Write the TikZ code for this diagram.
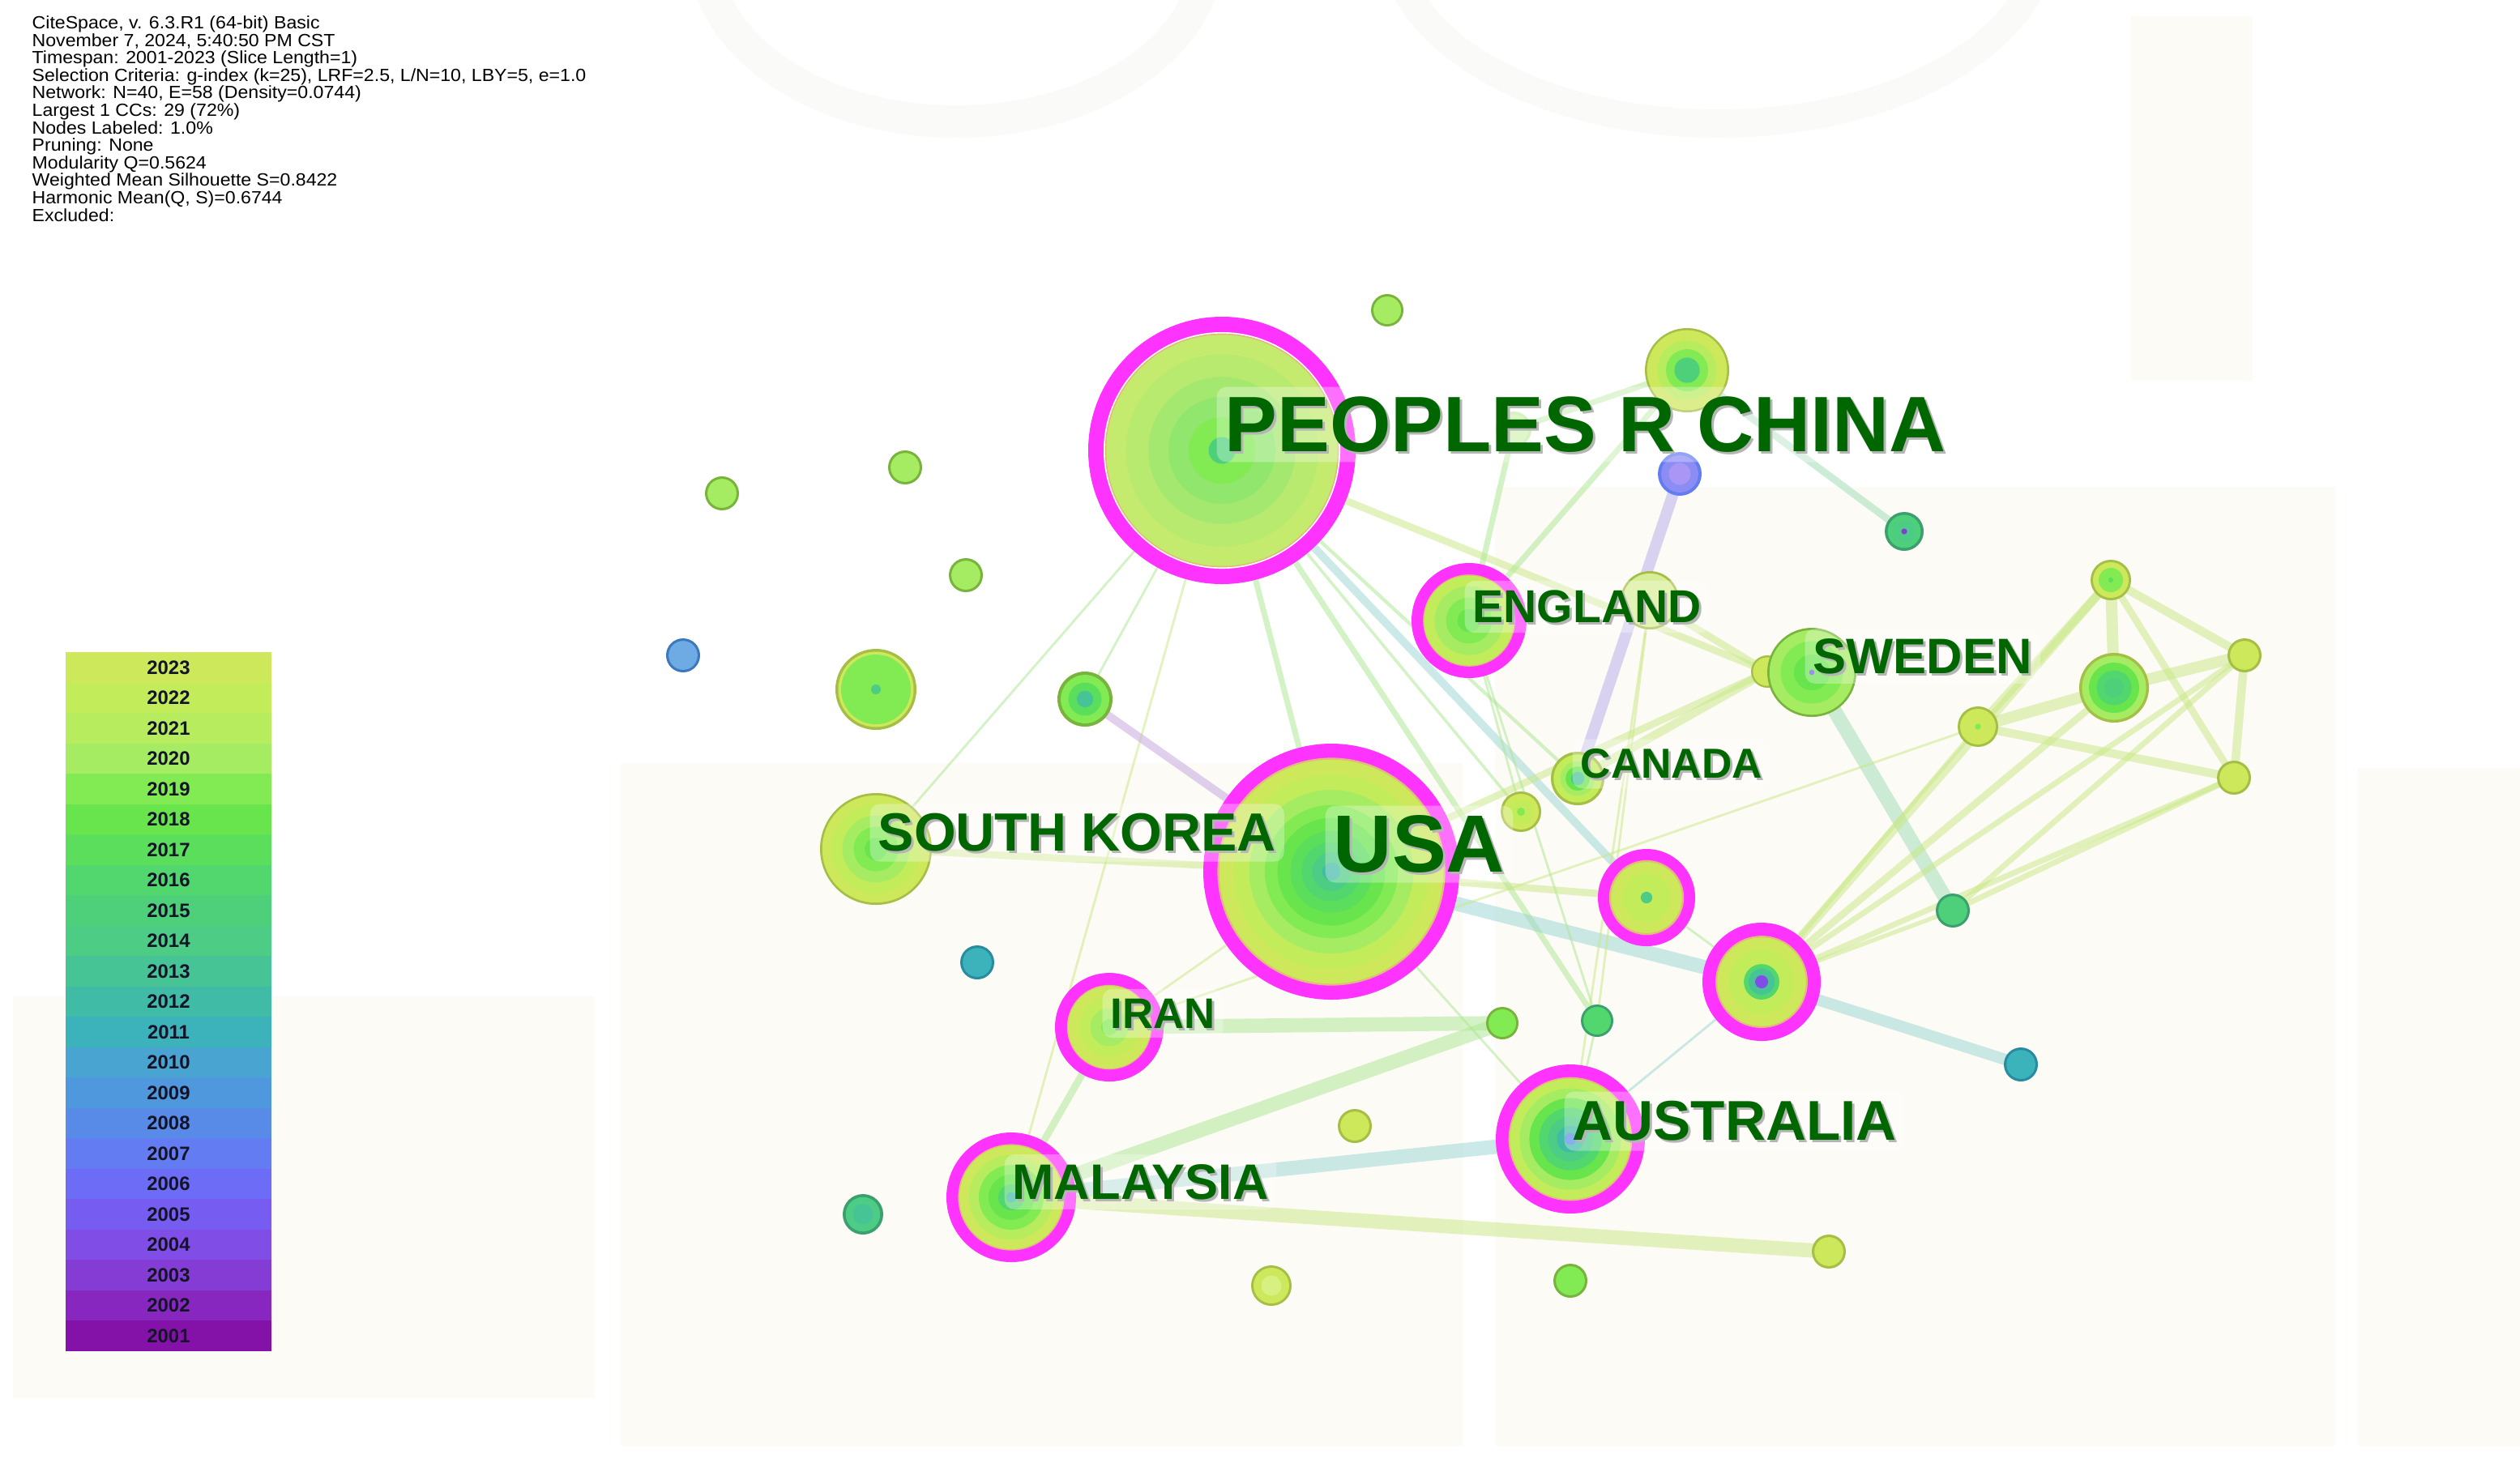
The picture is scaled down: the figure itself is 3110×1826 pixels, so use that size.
\documentclass[tikz,border=0pt]{standalone}
\usepackage{fontspec}
\setmainfont{Liberation Sans}
\usepackage{graphicx}
% year palette
\definecolor{y23}{RGB}{205,232,90}
\definecolor{y22}{RGB}{195,236,90}
\definecolor{y21}{RGB}{182,236,94}
\definecolor{y20}{RGB}{166,236,98}
\definecolor{y19}{RGB}{130,234,82}
\definecolor{y18}{RGB}{104,228,76}
\definecolor{y17}{RGB}{90,222,92}
\definecolor{y16}{RGB}{82,214,110}
\definecolor{y15}{RGB}{78,208,122}
\definecolor{y14}{RGB}{76,204,132}
\definecolor{y13}{RGB}{70,196,150}
\definecolor{y12}{RGB}{64,188,166}
\definecolor{y11}{RGB}{60,178,186}
\definecolor{y10}{RGB}{74,164,210}
\definecolor{y09}{RGB}{80,152,222}
\definecolor{y08}{RGB}{88,138,232}
\definecolor{y07}{RGB}{100,124,242}
\definecolor{y06}{RGB}{108,108,246}
\definecolor{y05}{RGB}{118,92,240}
\definecolor{y04}{RGB}{128,78,230}
\definecolor{y03}{RGB}{132,60,212}
\definecolor{y02}{RGB}{136,38,192}
\definecolor{y01}{RGB}{132,18,168}
\definecolor{mag}{RGB}{255,51,255}
\definecolor{rim}{RGB}{225,185,125}
\definecolor{bordY}{RGB}{165,190,70}
\definecolor{bordG}{RGB}{120,180,60}
\definecolor{bordT}{RGB}{60,160,110}
\definecolor{bordB}{RGB}{60,120,190}
\definecolor{bordC}{RGB}{40,140,160}
\definecolor{blueA}{RGB}{140,140,245}
\definecolor{blueB}{RGB}{170,150,245}
\definecolor{blueI}{RGB}{110,170,228}
\definecolor{paleY}{RGB}{215,238,150}
\definecolor{paleY2}{RGB}{215,240,130}
\definecolor{hidB}{RGB}{200,235,170}
\definecolor{hidF}{RGB}{210,242,180}
\definecolor{cIn1}{RGB}{196,234,110}
\definecolor{cIn2}{RGB}{185,234,112}
\definecolor{cIn3}{RGB}{165,232,112}
\definecolor{cIn4}{RGB}{145,230,110}
\definecolor{labgreen}{RGB}{0,102,0}
\definecolor{shadowc}{RGB}{150,150,150}
\definecolor{beige}{RGB}{253,251,246}
\definecolor{fog}{RGB}{250,250,248}
\definecolor{legtxt}{RGB}{20,20,40}
\definecolor{cEg}{RGB}{175,232,150}
\definecolor{cEt}{RGB}{150,212,210}
\definecolor{cEy}{RGB}{200,232,130}
\definecolor{cEl}{RGB}{180,170,235}
\definecolor{cEp}{RGB}{200,170,225}
\definecolor{cEtg}{RGB}{165,222,185}
\tikzset{
  vnode/.style={circle, inner sep=0pt, minimum size={#1*0.02cm}},
  egreen/.style={draw=cEg, draw opacity=0.55, line width=#1},
  eteal/.style={draw=cEt, draw opacity=0.5, line width=#1},
  eyell/.style={draw=cEy, draw opacity=0.5, line width=#1},
  elav/.style={draw=cEl, draw opacity=0.5, line width=#1},
  epink/.style={draw=cEp, draw opacity=0.55, line width=#1},
  etg/.style={draw=cEtg, draw opacity=0.55, line width=#1},
  labtext/.style={anchor=west, inner xsep=0.1cm, inner ysep=0.12cm, text=labgreen, fill=white, fill opacity=0.3, text opacity=1, rounded corners=0.12cm},
  shadtext/.style={anchor=west, inner xsep=0.1cm, inner ysep=0.12cm, text=shadowc},
  legtext/.style={font=\bfseries\fontsize{6.8}{7}\selectfont, text=legtxt, inner sep=0pt},
}
\newcommand\rings[3]{\foreach \f/\c in {#3}{\fill[fill=\c] (#1) circle ({#2*\f});}}
\newcommand\lbl[5]{%
  \node[shadtext, font=\bfseries\fontsize{#4}{#4}\selectfont] at ({#2-10+3},{#3+3}) {#5};
  \node[labtext, font=\bfseries\fontsize{#4}{#4}\selectfont] (#1) at ({#2-10},#3) {#5};
}
\begin{document}
\begin{tikzpicture}[x=0.01cm,y=-0.01cm]
\useasboundingbox (0,0) rectangle (3110,1826);
% background
\begin{scope}
\clip (0,0) rectangle (3110,1826);
\fill[white] (0,0) rectangle (3110,1826);
\fill[fog] (1180,-60) ellipse (330 and 230);
\fill[white] (1180,-60) ellipse (290 and 190);
\fill[fog] (2120,-80) ellipse (420 and 250);
\fill[white] (2120,-80) ellipse (385 and 215);
\fill[beige] (766,942) rectangle (1805,1785);
\fill[beige] (1845,601) rectangle (2882,1785);
\fill[beige] (16,1230) rectangle (734,1726);
\fill[beige] (2910,948) rectangle (3110,1785);
\fill[beige] (2630,20) rectangle (2780,470);
\end{scope}

% info text
\node[anchor=north west, inner sep=0pt, align=left] (info) at (39,19) {\scalebox{1.06}[1]{\fontsize{6.2}{5.5}\selectfont\begin{tabular}{@{}l@{}}
CiteSpace, v. 6.3.R1 (64-bit) Basic\\
November 7, 2024, 5:40:50 PM CST\\
Timespan: 2001-2023 (Slice Length=1)\\
Selection Criteria: g-index (k=25), LRF=2.5, L/N=10, LBY=5, e=1.0\\
Network: N=40, E=58 (Density=0.0744)\\
Largest 1 CCs: 29 (72\%)\\
Nodes Labeled: 1.0\%\\
Pruning: None\\
Modularity Q=0.5624\\
Weighted Mean Silhouette S=0.8422\\
Harmonic Mean(Q, S)=0.6744\\
Excluded:
\end{tabular}}};

% legend
\foreach \c/\yr [count=\i from 0] in {y23/2023,y22/2022,y21/2021,y20/2020,y19/2019,y18/2018,y17/2017,y16/2016,y15/2015,y14/2014,y13/2013,y12/2012,y11/2011,y10/2010,y09/2009,y08/2008,y07/2007,y06/2006,y05/2005,y04/2004,y03/2003,y02/2002,y01/2001}{
  \fill[fill=\c] (81,{805+37.52*\i}) rectangle (335,{805+37.52*(\i+1)});
  \node[legtext] (leg\i) at (208,{805+37.52*(\i+0.5)}) {\yr};
}

% network nodes (positions)
\node[vnode=165] (china) at (1508,556) {};
\node[vnode=158] (usa) at (1643,1076) {};
\node[vnode=71] (england) at (1813,766) {};
\node[vnode=67] (iran) at (1369,1268) {};
\node[vnode=80] (malaysia) at (1248,1478) {};
\node[vnode=92] (australia) at (1938,1406) {};
\node[vnode=60] (ma) at (2032,1108) {};
\node[vnode=73] (mb) at (2174,1212) {};
\node[vnode=69] (skorea) at (1081,1048) {};
\node[vnode=55] (sweden) at (2236,830) {};
\node[vnode=20] (swb) at (2181,829) {};
\node[vnode=33] (canada) at (1947,961) {};
\node[vnode=52] (nA) at (2082,457) {};
\node[vnode=27] (nB) at (2073,585) {};
\node[vnode=24] (nC) at (2350,656) {};
\node[vnode=36] (nD) at (2036,741) {};
\node[vnode=20] (nE) at (1712,383) {};
\node[vnode=21] (nF) at (891,609) {};
\node[vnode=21] (nG) at (1117,577) {};
\node[vnode=21] (nH) at (1192,710) {};
\node[vnode=21] (nI) at (843,809) {};
\node[vnode=50] (nJ) at (1081,851) {};
\node[vnode=34] (nK) at (1339,863) {};
\node[vnode=25] (nL) at (1877,1002) {};
\node[vnode=25] (nM) at (2605,716) {};
\node[vnode=21] (nN) at (2770,809) {};
\node[vnode=43] (nO) at (2609,849) {};
\node[vnode=25] (nP) at (2441,897) {};
\node[vnode=21] (nQ) at (2757,960) {};
\node[vnode=21] (nR) at (2410,1124) {};
\node[vnode=21] (nS) at (2494,1314) {};
\node[vnode=21] (nT) at (1206,1188) {};
\node[vnode=20] (nU) at (1854,1263) {};
\node[vnode=20] (nV) at (1971,1260) {};
\node[vnode=21] (nW) at (1672,1390) {};
\node[vnode=25] (nX) at (1065,1499) {};
\node[vnode=25] (nY) at (1569,1587) {};
\node[vnode=21] (nZ) at (1938,1581) {};
\node[vnode=21] (nAA) at (2257,1545) {};
\node[vnode=22] (hid) at (1868,530) {};

% edges
\draw[egreen=2pt] (china.center) -- (usa.center);
\draw[egreen=0.8pt] (china.center) -- (skorea.center);
\draw[egreen=0.8pt] (china.center) -- (nK.center);
\draw[eyell=0.8pt] (china.center) -- (malaysia.center);
\draw[egreen=2pt] (china.center) -- (nV.center);
\draw[eteal=2.8pt] (china.center) -- (ma.center);
\draw[egreen=1pt] (china.center) -- (nL.center);
\draw[egreen=1.2pt] (china.center) -- (canada.center);
\draw[eyell=2.5pt] (china.center) -- (swb.center);
\draw[egreen=2pt] (hid.center) -- (england.center);
\draw[egreen=2pt] (hid.center) -- (nA.center);
\draw[egreen=2pt] (nA.center) -- (england.center);
\draw[etg=2.5pt] (nA.center) -- (nC.center);
\draw[elav=4pt] (nB.center) -- (canada.center);
\draw[eyell=2.5pt] (nD.center) -- (swb.center);
\draw[eyell=3pt] (swb.center) -- (canada.center);
\draw[eyell=2.5pt] (swb.center) -- (usa.center);
\draw[etg=5pt] (sweden.center) -- (nR.center);
\draw[eyell=2.5pt] (usa.center) -- (skorea.center);
\draw[epink=2.8pt] (usa.center) -- (nK.center);
\draw[eyell=0.8pt] (usa.center) -- (iran.center);
\draw[egreen=0.8pt] (usa.center) -- (australia.center);
\draw[eyell=2.5pt] (usa.center) -- (ma.center);
\draw[eteal=5pt] (usa.center) -- (mb.center);
\draw[eteal=4pt] (mb.center) -- (nS.center);
\draw[egreen=5pt] (iran.center) -- (nU.center);
\draw[egreen=5pt] (malaysia.center) -- (nU.center);
\draw[eteal=5pt] (malaysia.center) -- (australia.center);
\draw[eyell=5pt] (malaysia.center) -- (nAA.center);
\draw[egreen=2.5pt] (iran.center) -- (malaysia.center);
\draw[eyell=0.8pt] (iran.center) -- (nP.center);
\draw[egreen=0.8pt] (england.center) -- (nL.center);
\draw[egreen=0.8pt] (england.center) -- (nV.center);
\draw[eyell=0.8pt] (nD.center) -- (nV.center);
\draw[eyell=0.8pt] (nD.center) -- (australia.center);
\draw[eteal=0.8pt] (australia.center) -- (mb.center);
\draw[egreen=0.8pt] (ma.center) -- (mb.center);
\draw[egreen=0.8pt] (australia.center) -- (nV.center);
\draw[eyell=3pt] (mb.center) -- (nM.center);
\draw[eyell=2.5pt] (mb.center) -- (nO.center);
\draw[eyell=2pt] (mb.center) -- (nQ.center);
\draw[eyell=2pt] (mb.center) -- (nN.center);
\draw[eyell=1.5pt] (mb.center) -- (nP.center);
\draw[eyell=1.5pt] (mb.center) -- (nR.center);
\draw[eyell=4pt] (nM.center) -- (nO.center);
\draw[eyell=3pt] (nM.center) -- (nN.center);
\draw[eyell=2.5pt] (nM.center) -- (nQ.center);
\draw[eyell=3pt] (nM.center) -- (nP.center);
\draw[eyell=4pt] (nO.center) -- (nN.center);
\draw[eyell=4pt] (nO.center) -- (nP.center);
\draw[eyell=3pt] (nP.center) -- (nQ.center);
\draw[eyell=3pt] (nN.center) -- (nQ.center);
\draw[eyell=2pt] (nR.center) -- (nN.center);
\draw[eyell=2pt] (nR.center) -- (nQ.center);

% node rings
\rings{china}{165}{1/mag, 0.885/white, 0.875/rim, 0.865/cIn1, 0.72/cIn2, 0.55/cIn3, 0.4/cIn4, 0.25/y19, 0.1/y15}
\rings{usa}{158}{1/mag, 0.89/rim, 0.875/y23, 0.76/y22, 0.64/y20, 0.52/y19, 0.42/y18, 0.32/y17, 0.23/y16, 0.15/y14, 0.07/y12}
\rings{england}{71}{1/mag, 0.8/rim, 0.78/y22, 0.6/y20, 0.4/y19, 0.2/y18}
\rings{iran}{67}{1/mag, 0.78/rim, 0.76/y23, 0.55/y22, 0.35/y20, 0.15/y19}
\rings{malaysia}{80}{1/mag, 0.82/rim, 0.8/y23, 0.65/y21, 0.5/y19, 0.35/y18, 0.2/y16, 0.08/y12}
\rings{australia}{92}{1/mag, 0.83/rim, 0.81/y22, 0.68/y20, 0.55/y18, 0.42/y16, 0.3/y14, 0.18/y12, 0.08/y08}
\rings{ma}{60}{1/mag, 0.77/rim, 0.73/y23, 0.5/y22, 0.12/y14}
\rings{mb}{73}{1/mag, 0.78/rim, 0.75/y23, 0.55/y22, 0.3/y16, 0.22/y13, 0.11/y04}
\rings{skorea}{69}{1/bordY, 0.96/y23, 0.8/y22, 0.6/y20, 0.4/y19, 0.2/y18}
\rings{swb}{20}{1/bordY, 0.88/y23}
\rings{sweden}{55}{1/bordG, 0.95/y20, 0.7/y19, 0.4/y18, 0.06/y05}
\rings{canada}{33}{1/bordY, 0.9/y22, 0.65/y20, 0.45/y18, 0.25/y13}
\rings{nA}{52}{1/bordY, 0.95/y23, 0.7/y21, 0.5/y19, 0.3/y15}
\rings{nB}{27}{1/y07, 0.85/blueA, 0.5/blueB}
\rings{nC}{24}{1/bordT, 0.85/y15, 0.55/y14, 0.15/y03}
\rings{nD}{36}{1/bordY, 0.92/paleY}
\rings{nE}{20}{1/bordG, 0.85/y20}
\rings{nF}{21}{1/bordG, 0.85/y20}
\rings{nG}{21}{1/bordG, 0.85/y20}
\rings{nH}{21}{1/bordG, 0.85/y20}
\rings{nI}{21}{1/bordB, 0.85/blueI}
\rings{nJ}{50}{1/bordY, 0.93/y23, 0.86/y19, 0.12/y14}
\rings{nK}{34}{1/bordG, 0.88/y19, 0.6/y17, 0.3/y13}
\rings{nL}{25}{1/bordY, 0.88/y23, 0.6/y22, 0.2/y19}
\rings{nM}{25}{1/bordY, 0.88/y23, 0.6/y19, 0.12/y17}
\rings{nN}{21}{1/bordY, 0.85/y23}
\rings{nO}{43}{1/bordY, 0.92/y20, 0.72/y18, 0.5/y16, 0.28/y15}
\rings{nP}{25}{1/bordY, 0.88/y23, 0.15/y19}
\rings{nQ}{21}{1/bordY, 0.85/y23}
\rings{nR}{21}{1/bordT, 0.85/y15}
\rings{nS}{21}{1/bordC, 0.85/y11}
\rings{nT}{21}{1/bordC, 0.85/y11}
\rings{nU}{20}{1/bordG, 0.85/y19}
\rings{nV}{20}{1/bordT, 0.85/y16}
\rings{nW}{21}{1/bordY, 0.85/y23}
\rings{nX}{25}{1/bordT, 0.85/y14, 0.5/y13}
\rings{nY}{25}{1/bordY, 0.88/y23, 0.5/paleY2}
\rings{nZ}{21}{1/bordG, 0.85/y19}
\rings{nAA}{21}{1/bordY, 0.85/y23}
\rings{hid}{22}{1/hidB, 0.85/hidF}

% labels
\lbl{lchina}{1511}{524}{27.6}{PEOPLES R CHINA}
\lbl{lusa}{1645}{1042}{28.5}{USA}
\lbl{lskorea}{1083}{1028}{18.9}{SOUTH KOREA}
\lbl{lengland}{1817}{749}{16.2}{ENGLAND}
\lbl{lsweden}{2237}{810}{17.5}{SWEDEN}
\lbl{lcanada}{1950}{943}{14.7}{CANADA}
\lbl{liran}{1370}{1251}{15}{IRAN}
\lbl{lmalaysia}{1249}{1459}{17.5}{MALAYSIA}
\lbl{laustralia}{1940}{1384}{19.7}{AUSTRALIA}
\end{tikzpicture}
\end{document}
